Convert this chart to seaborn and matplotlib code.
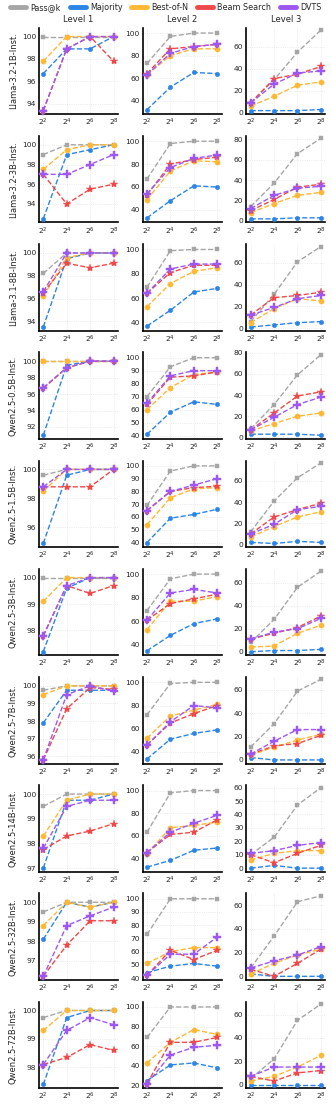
import matplotlib as mpl
mpl.use('Agg')
import matplotlib.pyplot as plt
from matplotlib.lines import Line2D
from matplotlib.ticker import MultipleLocator
import numpy as np
import pandas as pd
import seaborn as sns

models = [
    'Llama-3.2-1B-Inst.', 'Llama-3.2-3B-Inst.', 'Llama-3.1-8B-Inst.',
    'Qwen2.5-0.5B-Inst.', 'Qwen2.5-1.5B-Inst.', 'Qwen2.5-3B-Inst.',
    'Qwen2.5-7B-Inst.', 'Qwen2.5-14B-Inst.', 'Qwen2.5-32B-Inst.',
    'Qwen2.5-72B-Inst.',
]
levels = ['Level 1', 'Level 2', 'Level 3']
methods = ['Pass@k', 'Majority', 'Best-of-N', 'Beam Search', 'DVTS']
ks = [4, 16, 64, 256]
k_labels = ['$2^{2}$', '$2^{4}$', '$2^{6}$', '$2^{8}$']

# ---- Level 1 ----
pass_l1 = [[100, 100, 100, 100], [99, 100, 100, 100], [98.2, 100, 100, 100],
           [100, 100, 100, 100], [99.6, 100, 100, 100], [100, 100, 100, 100],
           [99.75, 100, 100, 100], [99.5, 100, 100, 100], [99.5, 100, 100, 100],
           [99.75, 100, 100, 100]]
maj_l1 = [[96.7, 98.9, 98.9, 100], [92.5, 99, 99.5, 100], [93.5, 99.5, 100, 100],
          [91, 99.5, 100, 100], [94.9, 99.6, 100, 100], [97.2, 99.6, 100, 100],
          [97.9, 99.75, 99.75, 99.75], [97, 99.75, 99.75, 100], [98.1, 100, 99.75, 100],
          [97.4, 99.75, 100, 100]]
bon_l1 = [[97.8, 100, 100, 100], [97.5, 99.5, 100, 100], [96.2, 99.6, 100, 100],
          [100, 100, 100, 100], [98.5, 100, 100, 100], [99.1, 100, 100, 100],
          [99.5, 100, 100, 100], [98.3, 99.75, 100, 100], [98.8, 100, 99.75, 100],
          [99.3, 100, 100, 100]]
beam_l1 = [[93.4, 98.9, 100, 97.8], [97, 94, 95.5, 96], [96.5, 99.1, 98.7, 99.1],
           [96.7, 99.2, 100, 100], [98.8, 98.8, 98.8, 100], [97.8, 99.7, 99.4, 99.7],
           [95.8, 98.7, 99.9, 99.8], [97.75, 98.3, 98.5, 98.8], [96.2, 97.8, 99.05, 99.05],
           [98.1, 98.35, 98.8, 98.6]]
dvts_l1 = [[93.4, 98.9, 100, 100], [97, 97, 98, 99], [96.6, 100, 100, 100],
           [96.8, 99.2, 100, 100], [98.8, 100, 100, 100], [97.8, 99.7, 100, 100],
           [95.8, 99.5, 100, 99.7], [97.8, 99.5, 99.75, 99.75], [96.2, 98.8, 99.3, 99.75],
           [98.1, 99.3, 99.75, 99.5]]

# ---- Level 2 ----
pass_l2 = [[73, 97, 100, 100], [67, 98, 100, 100], [69, 99, 100, 100],
           [70, 93, 100, 100], [69, 96, 100, 100], [69, 96, 100, 100],
           [72, 99, 100, 100], [63, 98, 100, 100], [73, 100, 100, 100],
           [69, 100, 100, 100]]
maj_l2 = [[32, 52, 65, 64], [33, 48, 61, 60], [37, 50, 65, 68],
          [41, 58, 66, 64], [40, 59, 62, 66], [35, 48, 58, 62],
          [34, 51, 56, 59], [32, 38, 47, 49], [44, 49, 51, 49],
          [25, 41, 43, 38]]
bon_l2 = [[63, 80, 86, 86], [49, 74, 83, 82], [53, 72, 82, 85],
          [60, 77, 87, 89], [54, 75, 82, 83], [53, 77, 77, 81],
          [52, 71, 76, 81], [44, 67, 69, 72], [51, 60, 63, 63],
          [43, 64, 77, 72]]
beam_l2 = [[64, 86, 88, 90], [53, 80, 84, 86], [64, 81, 87, 87],
           [64, 85, 86, 89], [65, 80, 83, 84], [61, 75, 79, 83],
           [46, 65, 73, 80], [45, 61, 63, 74], [42, 61, 54, 61],
           [22, 64, 64, 69]]
dvts_l2 = [[63, 82, 88, 90], [54, 77, 85, 88], [64, 84, 88, 88],
           [65, 86, 90, 90], [65, 80, 85, 90], [61, 84, 87, 84],
           [46, 66, 80, 78], [45, 63, 71, 78], [42, 58, 58, 71],
           [22, 51, 59, 61]]

# ---- Level 3 ----
pass_l3 = [[9, 30, 55, 75], [14, 37, 66, 81], [6, 31, 61, 75],
           [8, 31, 59, 78], [12, 41, 63, 77], [8, 28, 56, 70],
           [11, 31, 59, 69], [10, 23, 47, 60], [7, 34, 63, 68],
           [5, 22, 55, 69]]
maj_l3 = [[2, 2, 2, 3], [2, 2, 3, 3], [1, 3, 5, 6],
          [3, 3, 3, 2], [2, 1, 3, 2], [0, 1, 1, 2],
          [2, 0, 0, 0], [0, 2, 0, 0], [2, 0, 0, 0],
          [0, 0, 0, 0]]
bon_l3 = [[6, 15, 25, 28], [8, 17, 25, 28], [5, 18, 27, 25],
          [6, 13, 20, 23], [7, 17, 26, 31], [4, 5, 16, 23],
          [4, 11, 17, 22], [6, 11, 13, 13], [2, 11, 18, 23],
          [3, 7, 15, 25]]
beam_l3 = [[9, 31, 35, 42], [10, 21, 33, 36], [12, 28, 30, 33],
           [7, 23, 39, 43], [10, 26, 33, 39], [11, 16, 21, 31],
           [5, 12, 14, 21], [10, 4, 11, 17], [6, 0, 11, 23],
           [7, 3, 10, 12]]
dvts_l3 = [[9, 26, 36, 38], [12, 25, 32, 34], [12, 19, 27, 30],
           [7, 19, 31, 38], [10, 19, 33, 36], [11, 17, 20, 29],
           [5, 16, 26, 26], [11, 13, 17, 19], [7, 13, 18, 25],
           [7, 15, 15, 15]]

# y tick spacing per panel (column = level)
ystep_l1 = [2, 2, 2, 2, 2, 1, 1, 1, 1, 1]
ystep_l2 = [20, 20, 20, 10, 10, 20, 20, 20, 10, 20]
ystep_l3 = [20, 20, 20, 20, 20, 20, 20, 10, 20, 20]
ysteps = [ystep_l1, ystep_l2, ystep_l3]
# headroom (fraction of data range) below / above, per level
pad_lo = [0.05, 0.06, 0.045]
pad_hi = [0.12, 0.07, 0.03]

data = {
    'Pass@k': [pass_l1, pass_l2, pass_l3],
    'Majority': [maj_l1, maj_l2, maj_l3],
    'Best-of-N': [bon_l1, bon_l2, bon_l3],
    'Beam Search': [beam_l1, beam_l2, beam_l3],
    'DVTS': [dvts_l1, dvts_l2, dvts_l3],
}

colors = {'Pass@k': '#a6a6a6', 'Majority': '#2b85e8', 'Best-of-N': '#ffb833',
          'Beam Search': '#f04848', 'DVTS': '#9d57f5'}
markers = {'Pass@k': 's', 'Majority': 'o', 'Best-of-N': 'o',
           'Beam Search': '*', 'DVTS': 'P'}
msizes = {'Pass@k': 3.3, 'Majority': 3.2, 'Best-of-N': 3.8,
          'Beam Search': 6.0, 'DVTS': 5.3}

sns.set_theme(style='whitegrid')
plt.rcParams['font.family'] = ['DejaVu Sans']

fig, axes = plt.subplots(nrows=10, ncols=3, figsize=(3.32, 11.07), dpi=100)
fig.subplots_adjust(left=0.117, right=0.98, top=0.975, bottom=0.017,
                    wspace=0.31, hspace=0.25)

for i, model in enumerate(models):
    for j in range(3):
        ax = axes[i][j]
        vals = []
        for m in methods:
            vals += data[m][j][i]
            sns.lineplot(x=ks, y=data[m][j][i], ax=ax, color=colors[m],
                         marker=markers[m], markersize=msizes[m],
                         markeredgewidth=0.3, markeredgecolor=colors[m],
                         linestyle='--', linewidth=1.0, zorder=3,
                         clip_on=False)
        ax.set_xscale('log', base=2)
        ax.set_xlim(2 ** 1.62, 2 ** 8.38)
        lo, hi = min(vals), max(vals)
        rng = hi - lo
        ax.set_ylim(lo - pad_lo[j] * rng, hi + pad_hi[j] * rng)
        ax.set_xticks(ks)
        ax.set_xticklabels(k_labels)
        ax.minorticks_off()
        ax.yaxis.set_major_locator(MultipleLocator(ysteps[j][i]))
        ax.tick_params(labelsize=5.4, length=0, pad=2)
        ax.grid(True, linestyle=':', linewidth=0.5, color='#dddddd')
        for s in ['top', 'right']:
            ax.spines[s].set_visible(False)
        for s in ['left', 'bottom']:
            ax.spines[s].set_color('black')
            ax.spines[s].set_linewidth(1.2)
        if i == 0:
            ax.set_title(levels[j], fontsize=6, pad=4)
        if j == 0:
            ax.set_ylabel(model, fontsize=6, labelpad=3)
        else:
            ax.set_ylabel('')

handles = [Line2D([0], [0], color=colors[m], linewidth=3.5) for m in methods]
fig.legend(handles, methods, loc='upper center', ncol=5, frameon=False,
           bbox_to_anchor=(0.5, 1.004), fontsize=5.8, handlelength=2.0,
           columnspacing=1.1, handletextpad=0.5)

plt.savefig('out.png', dpi=100)
